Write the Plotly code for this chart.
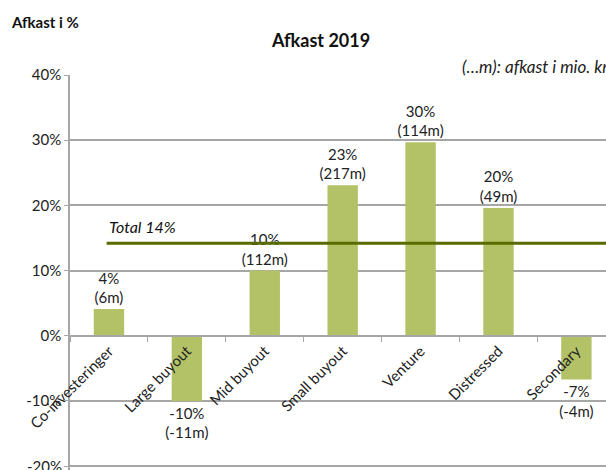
import plotly.graph_objects as go

categories = ["Co-investeringer", "Large buyout", "Mid buyout", "Small buyout", "Venture", "Distressed", "Secondary"]
returns_pct = [4.1, -10.0, 10.0, 23.1, 29.7, 19.6, -6.7]
return_labels = ["4%", "-10%", "10%", "23%", "30%", "20%", "-7%"]
return_mio = ["(6m)", "(-11m)", "(112m)", "(217m)", "(114m)", "(49m)", "(-4m)"]
total_pct = 14.2
total_label = "Total 14%"
y_ticks = [-20, -10, 0, 10, 20, 30, 40]
y_tick_text = ["-20%", "-10%", "0%", "10%", "20%", "30%", "40%"]

FONT = "Lato, Carlito, Calibri, sans-serif"
BAR = "#b3c266"
LINE = "#586b00"
GRID = "#a6a6a6"

texts = [f"{a}<br>{b}" for a, b in zip(return_labels, return_mio)]

YMIN, YMAX = -20.6, 40

fig = go.Figure()
fig.add_trace(go.Bar(
    x=categories, y=returns_pct, marker=dict(color=BAR, line=dict(width=0)),
    width=0.39, text=texts, textposition="outside", cliponaxis=False,
    constraintext="none",
    textfont=dict(family=FONT, size=15, color="#222"), hoverinfo="skip",
))

# bottom gridline (plotly drops the grid line at the lowest tick here)
fig.add_shape(type="line", xref="paper", yref="y", x0=0, x1=1, y0=y_ticks[0], y1=y_ticks[0],
              line=dict(color=GRID, width=1.5), layer="below")
fig.add_shape(type="line", xref="x", yref="y", x0=-0.03, x1=6.5, y0=total_pct, y1=total_pct,
              line=dict(color=LINE, width=3), layer="above")

fig.update_layout(
    width=606, height=470,
    margin=dict(l=70, r=0, t=75, b=0),
    paper_bgcolor="white", plot_bgcolor="white",
    showlegend=False, bargap=0.6,
    font=dict(family=FONT, size=14, color="#222"),
    xaxis=dict(
        type="category", range=[-0.5, 6.38], anchor="free", position=(0 - YMIN) / (YMAX - YMIN),
        showline=True, linecolor=GRID, linewidth=1.5,
        ticks="outside", tickson="boundaries", ticklen=6, tickcolor=GRID,
        tickangle=-45, tickfont=dict(family=FONT, size=15, color="#222"),
        showgrid=False, zeroline=False, automargin=False,
    ),
    yaxis=dict(
        range=[YMIN, YMAX], tickvals=y_ticks, ticktext=y_tick_text,
        ticks="outside", ticklen=4, tickcolor=GRID,
        showline=True, linecolor=GRID, linewidth=1.5,
        showgrid=True, gridcolor=GRID, gridwidth=1.5,
        zeroline=False, automargin=False,
        tickfont=dict(family=FONT, size=15, color="#222"),
    ),
    annotations=[
        dict(text="<b>Afkast 2019</b>", xref="paper", yref="paper", x=(320-70)/536, y=1 + (75-40)/395,
             showarrow=False, font=dict(family=FONT, size=18, color="#111"), xanchor="center", yanchor="middle"),
        dict(text="<b>Afkast i %</b>", xref="paper", yref="paper", x=-61/536, y=1 + (75-22)/395,
             showarrow=False, font=dict(family=FONT, size=15, color="#111"), xanchor="left", yanchor="middle"),
        dict(text="<i>(…m): afkast i mio. kr.</i>", xref="paper", yref="paper", x=(460-70)/536, y=1 + (75-66)/395,
             showarrow=False, font=dict(family=FONT, size=17, color="#222"), xanchor="left", yanchor="middle"),
        dict(text=f"<i>{total_label}</i>", xref="x", yref="y", x=-0.03, y=total_pct,
             showarrow=False, font=dict(family=FONT, size=16, color="#111"), xanchor="left", yanchor="bottom", yshift=5),
        dict(text=y_tick_text[0], xref="paper", yref="y", x=0, y=y_ticks[0], xshift=-6,
             showarrow=False, font=dict(family=FONT, size=15, color="#222"), xanchor="right", yanchor="middle"),
    ],
)

fig.write_html("out.html", config={"displayModeBar": False},
               post_script="document.body.style.margin='0';document.body.style.overflow='hidden';")
